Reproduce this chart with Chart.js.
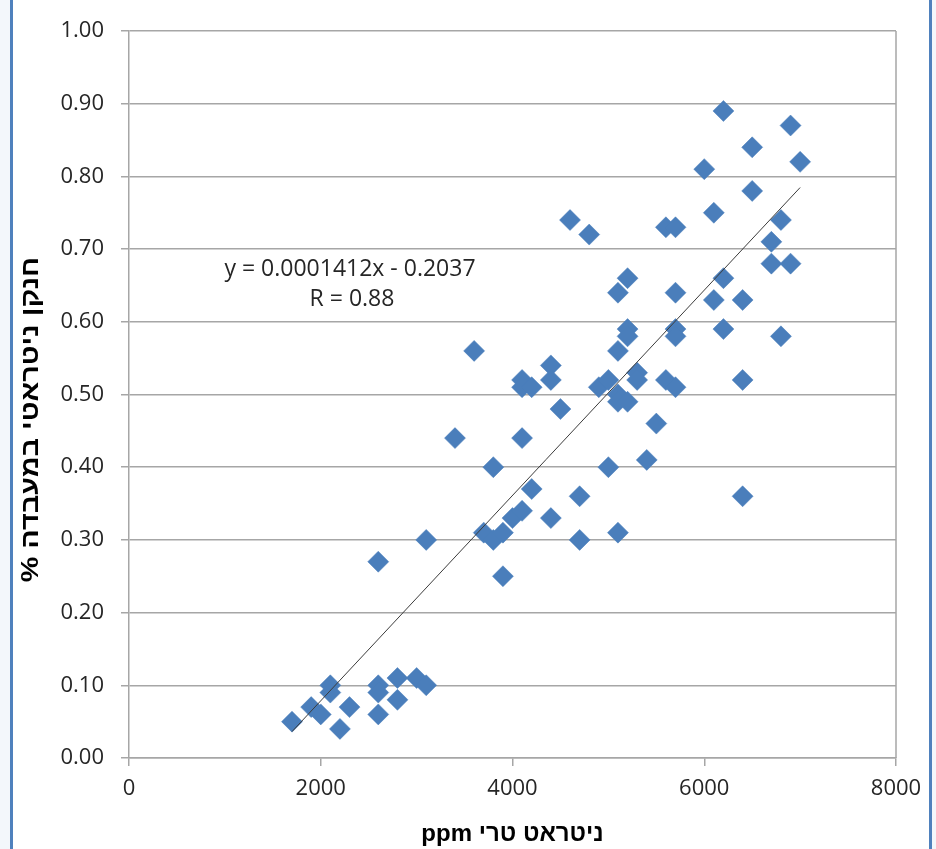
<!DOCTYPE html>
<html dir="ltr">
<head>
<meta charset="utf-8">
<title>חנקן ניטראטי</title>
<script src="https://cdn.jsdelivr.net/npm/chart.js@4.4.1/dist/chart.umd.min.js"></script>
<style>
  html, body { margin: 0; padding: 0; background: #fff; }
  #wrap { width: 936px; height: 849px; }
</style>
</head>
<body>
<div id="wrap"><canvas id="nitrateChart" width="936" height="849"></canvas></div>
<script>
// fresh nitrate (ppm) vs. lab nitrate-N (%)
const freshPpm = [
  1700, 1900, 2000, 2100, 2100, 2200, 2300, 2600, 2600, 2600,
  2600, 2800, 2800, 3000, 3100, 3100, 3400, 3600, 3700, 3800,
  3800, 3900, 3900, 4000, 4100, 4100, 4100, 4100, 4200, 4200,
  4400, 4400, 4400, 4500, 4600, 4700, 4700, 4800, 4900, 5000,
  5000, 5100, 5100, 5100, 5100, 5100, 5200, 5200, 5200, 5200,
  5300, 5300, 5400, 5500, 5600, 5600, 5700, 5700, 5700, 5700,
  5700, 6000, 6100, 6100, 6200, 6200, 6200, 6400, 6400, 6400,
  6500, 6500, 6700, 6700, 6800, 6800, 6900, 6900, 7000
];
const labPct = [
  0.05, 0.07, 0.06, 0.10, 0.09, 0.04, 0.07, 0.10, 0.09, 0.06,
  0.27, 0.11, 0.08, 0.11, 0.10, 0.30, 0.44, 0.56, 0.31, 0.30,
  0.40, 0.31, 0.25, 0.33, 0.34, 0.44, 0.52, 0.51, 0.51, 0.37,
  0.54, 0.52, 0.33, 0.48, 0.74, 0.36, 0.30, 0.72, 0.51, 0.52,
  0.40, 0.64, 0.56, 0.50, 0.49, 0.31, 0.66, 0.59, 0.58, 0.49,
  0.53, 0.52, 0.41, 0.46, 0.73, 0.52, 0.73, 0.64, 0.59, 0.58,
  0.51, 0.81, 0.75, 0.63, 0.89, 0.66, 0.59, 0.63, 0.52, 0.36,
  0.84, 0.78, 0.71, 0.68, 0.74, 0.58, 0.87, 0.68, 0.82
];

// linear trendline
const trendSlope = 0.0001412;
const trendIntercept = -0.2037;
const trendR = 0.88;
const trendX = [1700, 7000];

const xTicks = [0, 2000, 4000, 6000, 8000];
const yTicks = [0, 0.1, 0.2, 0.3, 0.4, 0.5, 0.6, 0.7, 0.8, 0.9, 1.0];

const xTitle = 'ppm ניטראט טרי';
const yTitle = '% חנקן ניטראטי במעבדה';

const points = freshPpm.map((x, i) => ({ x, y: labPct[i] }));
const trendPts = trendX.map(x => ({ x, y: trendSlope * x + trendIntercept }));

const tickFont = { family: '"Open Sans", sans-serif', size: 22 };
const tickColor = '#262626';
const gridCol = '#a6a6a6';

// page frame, plot box edge, y title and trendline equation
const decor = {
    id: 'decor',
    beforeDraw(chart) {
        const c = chart.ctx;
        c.save();
        c.fillStyle = '#ffffff';
        c.fillRect(0, 0, chart.width, chart.height);
        c.fillStyle = '#f3f7fb';
        c.fillRect(0, 0, 10, chart.height);
        c.fillRect(932, 0, chart.width - 932, chart.height);
        c.fillStyle = '#4f81bd';
        c.fillRect(10, 0, 3, chart.height);
        c.fillRect(929, 0, 3, chart.height);
        c.restore();
    },
    afterDatasetsDraw(chart) {
        const c = chart.ctx;
        const a = chart.chartArea;
        c.save();
        // right edge of plot box
        c.strokeStyle = gridCol;
        c.lineWidth = 1.5;
        c.beginPath();
        c.moveTo(a.right, a.top);
        c.lineTo(a.right, a.bottom);
        c.stroke();

        // y axis title, rotated and a little stretched along its length
        c.fillStyle = '#000';
        c.font = 'bold 24px "Liberation Sans", sans-serif';
        c.textAlign = 'center';
        c.textBaseline = 'middle';
        c.translate(31, (a.top + a.bottom) / 2 + 25);
        c.rotate(-Math.PI / 2);
        c.scale(1.2, 1);
        c.fillText(yTitle, 0, 0);
        c.restore();

        // equation label
        c.save();
        c.fillStyle = '#262626';
        c.font = '23px "Open Sans", sans-serif';
        c.textAlign = 'center';
        c.textBaseline = 'middle';
        const eq = 'y = ' + trendSlope.toFixed(7) + 'x - ' + Math.abs(trendIntercept).toFixed(4);
        c.fillText(eq, a.left + 221, a.top + 238);
        c.fillText('R = ' + trendR.toFixed(2), a.left + 223, a.top + 268);
        c.restore();
    }
};

new Chart(document.getElementById('nitrateChart'), {
    type: 'scatter',
    data: {
        datasets: [
            {
                type: 'line',
                data: trendPts,
                borderColor: '#3c3c3c',
                borderWidth: 1,
                pointRadius: 0,
                fill: false,
                order: 0,
            },
            {
                data: points,
                pointStyle: 'rectRot',
                pointRadius: 10.5,
                backgroundColor: '#4a7ebb',
                borderColor: '#4a7ebb',
                borderWidth: 0.5,
                order: 1,
            }
        ]
    },
    options: {
        responsive: false,
        animation: false,
        events: [],
        layout: { padding: { left: 14, top: 31, right: 40, bottom: 0 } },
        plugins: {
            legend: { display: false },
            tooltip: { enabled: false },
        },
        scales: {
            x: {
                type: 'linear',
                min: 0,
                max: 8000,
                afterBuildTicks: s => { s.ticks = xTicks.map(v => ({ value: v })); },
                afterFit: s => { s.height = 91; },
                ticks: { color: tickColor, font: tickFont, padding: 10, maxRotation: 0, callback: v => String(v) },
                grid: { drawOnChartArea: false, tickLength: 8, color: gridCol, lineWidth: 1.5 },
                border: { color: gridCol, width: 1.5 },
                title: {
                    display: true,
                    text: xTitle,
                    color: '#000',
                    font: { family: '"Liberation Sans", sans-serif', size: 24, weight: 'bold' },
                    padding: { top: 0, bottom: 0 },
                },
            },
            y: {
                type: 'linear',
                min: 0,
                max: 1,
                afterBuildTicks: s => { s.ticks = yTicks.map(v => ({ value: v })); },
                afterFit: s => { s.width = 115; },
                ticks: { color: tickColor, font: tickFont, padding: 17, callback: v => v.toFixed(2) },
                grid: { tickLength: 8, color: gridCol, lineWidth: 1.5 },
                border: { color: gridCol, width: 1.5 },
            }
        }
    },
    plugins: [decor]
});
</script>
</body>
</html>
